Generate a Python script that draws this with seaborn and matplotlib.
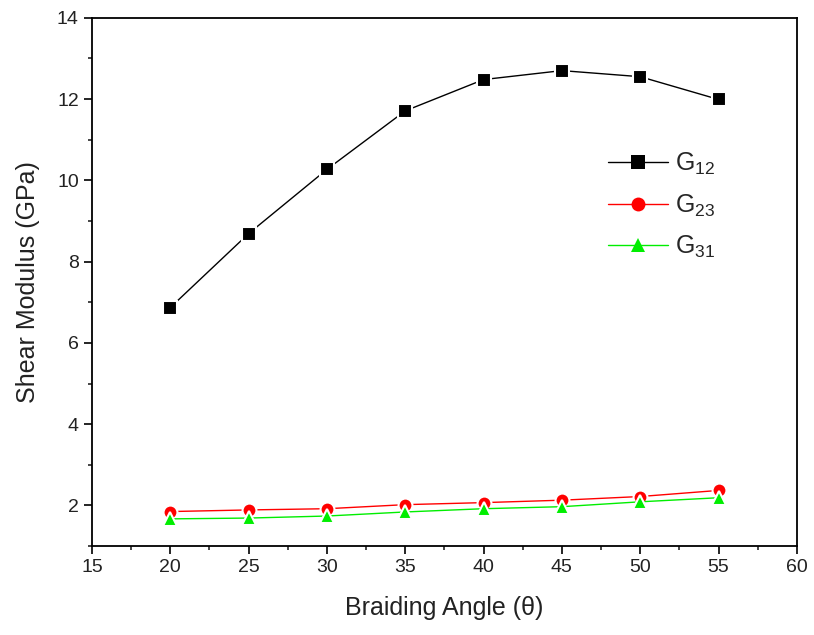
import matplotlib
matplotlib.use("Agg")
import matplotlib.pyplot as plt
import seaborn as sns
import pandas as pd
from matplotlib.ticker import MultipleLocator

angles = [20, 25, 30, 35, 40, 45, 50, 55]
g12 = [6.87, 8.69, 10.27, 11.71, 12.48, 12.70, 12.55, 11.99]
g23 = [1.85, 1.89, 1.92, 2.02, 2.07, 2.13, 2.22, 2.37]
g31 = [1.67, 1.69, 1.74, 1.84, 1.92, 1.97, 2.09, 2.19]
labels = ["G$_{12}$", "G$_{23}$", "G$_{31}$"]
colors = ["#000000", "#ff0000", "#00ee00"]
markers = ["s", "o", "^"]

sns.set_style("ticks")
plt.rcParams["font.family"] = ["Liberation Sans", "DejaVu Sans"]
plt.rcParams["mathtext.default"] = "regular"

fig = plt.figure(figsize=(8.14, 6.35), dpi=100)
ax = fig.add_axes([0.113, 0.140, 0.866, 0.832])

for vals, lab, col, mk in zip([g12, g23, g31], labels, colors, markers):
    df = pd.DataFrame({"angle": angles, "value": vals})
    sns.lineplot(data=df, x="angle", y="value", ax=ax, color=col, marker=mk,
                 markersize=10, markeredgecolor="white", markeredgewidth=1.5,
                 linewidth=1.0, label=lab)

ax.set_xlim(15, 60)
ax.set_ylim(1, 14)
ax.xaxis.set_major_locator(MultipleLocator(5))
ax.xaxis.set_minor_locator(MultipleLocator(2.5))
ax.yaxis.set_major_locator(MultipleLocator(2))
ax.yaxis.set_minor_locator(MultipleLocator(1))
ax.tick_params(which="major", direction="out", length=6, width=1.2, labelsize=14,
               colors="black", labelcolor="#222222")
ax.tick_params(which="minor", direction="out", length=3, width=1.2)
for s in ax.spines.values():
    s.set_linewidth(1.3)
    s.set_color("black")

ax.set_xlabel("Braiding Angle (\u03b8)", fontsize=18, labelpad=14, color="#222222")
ax.set_ylabel("Shear Modulus (GPa)", fontsize=18, labelpad=12, color="#222222")

leg = ax.legend(loc="upper left", bbox_to_anchor=(0.70, 0.79), frameon=False,
                fontsize=18, handlelength=2.4, handletextpad=0.3, labelspacing=0.6)
for h in leg.legend_handles:
    h.set_markeredgecolor(h.get_color())
    h.set_markeredgewidth(0)

fig.savefig("out.png", dpi=100)
